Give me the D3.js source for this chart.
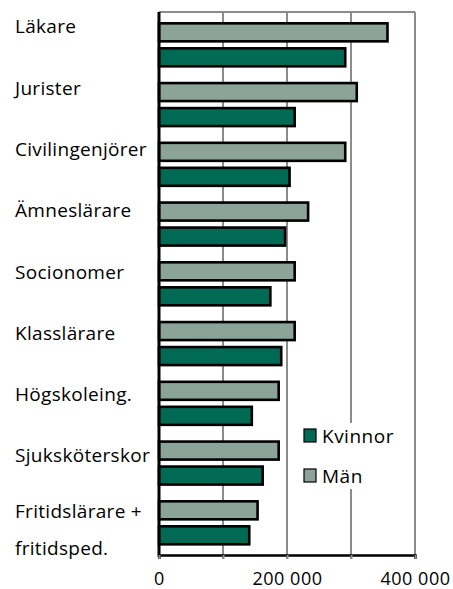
<!DOCTYPE html>
<html>
<head>
<meta charset="utf-8">
<script src="https://cdn.jsdelivr.net/npm/d3@7"></script>
<style>
  body { margin: 0; background: #fff; }
  text { font-family: "Open Sans", "DejaVu Sans", sans-serif; fill: #000; }
</style>
</head>
<body>
<svg id="viz"></svg>
<script>
// data
var categories = ['Läkare', 'Jurister', 'Civilingenjörer', 'Ämneslärare', 'Socionomer',
                  'Klasslärare', 'Högskoleing.', 'Sjuksköterskor', 'Fritidslärare + fritidsped.'];
var seriesNames = ['Män', 'Kvinnor'];
var man = [357000, 309000, 291000, 233000, 212000, 212000, 187000, 187000, 154000];
var kvinnor = [291000, 212000, 204000, 197000, 174000, 191000, 145000, 162000, 141000];
var tickValues = [0, 100000, 200000, 300000, 400000];
var tickLabels = ['0', '', '200 000', '', '400 000'];

var colors = { 'Män': '#8ca399', 'Kvinnor': '#006a55' };

var width = 453;
var height = 589;
var margin = { top: 12, right: 38, bottom: 34, left: 159 };
var drawWidth = width - margin.left - margin.right;
var drawHeight = height - margin.top - margin.bottom;

var svg = d3.select('#viz')
            .attr('width', width)
            .attr('height', height);

var g = svg.append('g')
           .attr('transform', `translate(${margin.left}, ${margin.top})`);

var xScale = d3.scaleLinear()
               .domain([0, 400000])
               .range([0, drawWidth]);

var yScale = d3.scaleBand()
               .domain(categories)
               .range([0, drawHeight])
               .paddingOuter(0.044)
               .paddingInner(0);

// bars inside each group
var subScale = d3.scaleBand()
                 .domain(seriesNames)
                 .range([8.7, 51.7])
                 .paddingInner(0.28);

// labels sit on their own pitch (a bit wider than the bars)
var labelScale = d3.scalePoint()
                   .domain(categories)
                   .range([33.3, 523.7]);

// gridlines
g.selectAll('.grid')
 .data(tickValues.slice(1))
 .enter()
 .append('line')
 .attr('class', 'grid')
 .attr('x1', d => xScale(d))
 .attr('x2', d => xScale(d))
 .attr('y1', 0)
 .attr('y2', drawHeight + 4)
 .attr('stroke', '#8c8c8c')
 .attr('stroke-width', 2);

// top frame line
g.append('line')
 .attr('x1', 0).attr('x2', drawWidth)
 .attr('y1', 0).attr('y2', 0)
 .attr('stroke', '#8c8c8c')
 .attr('stroke-width', 2);

var rows = categories.map((c, i) => ({ cat: c, 'Män': man[i], 'Kvinnor': kvinnor[i] }));

var group = g.selectAll('.group')
             .data(rows)
             .enter()
             .append('g')
             .attr('class', 'group')
             .attr('transform', d => `translate(0, ${yScale(d.cat)})`);

group.selectAll('rect')
     .data(d => seriesNames.map(s => ({ key: s, value: d[s] })))
     .enter()
     .append('rect')
     .attr('x', xScale(0))
     .attr('y', d => subScale(d.key))
     .attr('width', d => xScale(d.value))
     .attr('height', subScale.bandwidth())
     .attr('fill', d => colors[d.key])
     .attr('stroke', '#000')
     .attr('stroke-width', 2.6);

// legend (white box over the gridline)
var legend = g.append('g')
              .attr('transform', `translate(${xScale(225000)}, 411)`);
legend.append('rect')
      .attr('x', -6).attr('y', 0)
      .attr('width', 112).attr('height', 66)
      .attr('fill', '#fff');
['Kvinnor', 'Män'].forEach((s, i) => {
    legend.append('rect')
          .attr('x', 1).attr('y', 6 + i * 40)
          .attr('width', 12).attr('height', 13)
          .attr('fill', colors[s])
          .attr('stroke', '#000')
          .attr('stroke-width', 1.2);
    legend.append('text')
          .attr('x', 19).attr('y', 20 + i * 40)
          .style('font-size', '19px')
          .style('letter-spacing', '0.5px')
          .text(s);
});

// axes lines
g.append('line')
 .attr('x1', 0).attr('x2', 0)
 .attr('y1', 0).attr('y2', drawHeight + 2)
 .attr('stroke', '#000')
 .attr('stroke-width', 3);

var xAxis = d3.axisBottom(xScale)
              .tickValues(tickValues)
              .tickSize(4)
              .tickFormat((d, i) => tickLabels[i]);

var xAxisG = g.append('g')
              .attr('transform', `translate(0, ${drawHeight})`)
              .call(xAxis);
xAxisG.select('.domain').attr('stroke', '#000').attr('stroke-width', 2.5);
xAxisG.selectAll('.tick line').attr('stroke', '#8c8c8c').attr('stroke-width', 2);
xAxisG.selectAll('.tick text')
      .attr('y', 30)
      .attr('dy', 0)
      .style('font-size', '18px')
      .style('letter-spacing', '0.5px')
      .style('font-family', '"Open Sans", sans-serif');

// category labels
var labels = svg.append('g')
                .selectAll('text')
                .data(categories)
                .enter()
                .append('text')
                .attr('x', 15)
                .attr('y', d => labelScale(d))
                .style('font-size', '19px')
                .style('letter-spacing', '0.3px');

labels.each(function(d) {
    var el = d3.select(this);
    if (d.indexOf('+') > -1) {
        var parts = d.split('+ ');
        el.append('tspan').attr('x', 15).attr('dy', -6).text(parts[0] + '+');
        el.append('tspan').attr('x', 15).attr('dy', 37).text(parts[1]);
    } else {
        el.text(d);
    }
});
</script>
</body>
</html>
